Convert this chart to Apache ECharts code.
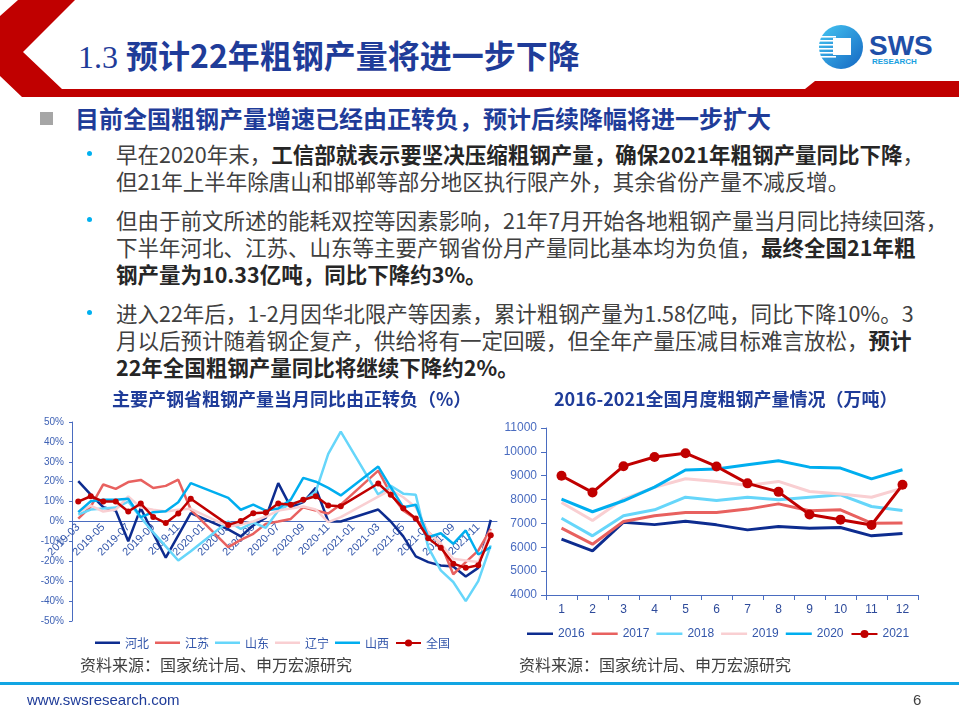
<!DOCTYPE html>
<html><head><meta charset="utf-8">
<script src="https://cdn.jsdelivr.net/npm/echarts@6/dist/echarts.min.js"></script>
<style>
html,body{margin:0;padding:0;background:#fff;}
#wrap{position:relative;width:959px;height:719px;overflow:hidden;font-family:"Noto Sans CJK SC",sans-serif;}
#chart{position:absolute;left:0;top:0;width:959px;height:719px;}
.t{position:absolute;white-space:nowrap;line-height:27px;font-size:21.5px;color:#404040;}
.t b{color:#262626;font-weight:bold;}
.dot{position:absolute;width:5px;height:5px;border-radius:50%;background:#00B0F0;}
</style></head>
<body>
<div id="wrap">
<svg width="959" height="110" style="position:absolute;left:0;top:0">
  <defs>
    <linearGradient id="lg" x1="0" y1="0" x2="1" y2="1">
      <stop offset="0" stop-color="#45C6F2"/>
      <stop offset="1" stop-color="#1466C2"/>
    </linearGradient>
  </defs>
  <polygon points="18,0 75,0 23,52 62,89 805,89 815,81 959,81 959,97 22,97 0,76 0,16" fill="#C00000"/>
  <circle cx="841" cy="47" r="22" fill="url(#lg)"/>
  <rect x="820" y="36" width="16" height="1.6" fill="#fff"/>
  <rect x="819" y="40" width="17" height="1.6" fill="#fff"/>
  <rect x="819" y="44" width="17" height="1.6" fill="#fff"/>
  <rect x="819" y="48" width="17" height="1.6" fill="#fff"/>
  <rect x="819" y="52" width="17" height="1.6" fill="#fff"/>
  <rect x="820" y="56" width="16" height="1.6" fill="#fff"/>
  <rect x="833" y="38" width="18" height="17" fill="#fff"/>
  <text x="869" y="55" font-family="Liberation Sans" font-weight="bold" font-size="28" fill="#1F4FA8">SWS</text>
  <text x="872" y="64" font-family="Liberation Sans" font-weight="bold" font-size="8" fill="#1AA0E0">RESEARCH</text>
</svg>
<div class="t" style="left:78px;top:38px;line-height:32px;font-size:32px;font-weight:bold;color:#1F3C99;"><span style="font-family:'Liberation Serif';font-weight:normal;">1.3 </span>预计22年粗钢产量将进一步下降</div>
<div style="position:absolute;left:40px;top:112px;width:13px;height:13px;background:#A6A6A6;"></div>
<div class="t" style="left:75px;top:104px;line-height:28px;font-size:24px;font-weight:bold;color:#1F3C99;">目前全国粗钢产量增速已经由正转负，预计后续降幅将进一步扩大</div>

<div class="dot" style="left:87px;top:151px;"></div>
<div class="t" style="left:116px;top:140px;">早在2020年末，<b>工信部就表示要坚决压缩粗钢产量，确保2021年粗钢产量同比下降</b>，</div>
<div class="t" style="left:116px;top:167px;">但21年上半年除唐山和邯郸等部分地区执行限产外，其余省份产量不减反增。</div>

<div class="dot" style="left:87px;top:217px;"></div>
<div class="t" style="left:116px;top:206px;">但由于前文所述的能耗双控等因素影响，21年7月开始各地粗钢产量当月同比持续回落，</div>
<div class="t" style="left:116px;top:233px;">下半年河北、江苏、山东等主要产钢省份月产量同比基本均为负值，<b>最终全国21年粗</b></div>
<div class="t" style="left:116px;top:260px;"><b>钢产量为10.33亿吨，同比下降约3%。</b></div>

<div class="dot" style="left:87px;top:310px;"></div>
<div class="t" style="left:116px;top:299px;">进入22年后，1-2月因华北限产等因素，累计粗钢产量为1.58亿吨，同比下降10%。3</div>
<div class="t" style="left:116px;top:326px;">月以后预计随着钢企复产，供给将有一定回暖，但全年产量压减目标难言放松，<b>预计</b></div>
<div class="t" style="left:116px;top:353px;"><b>22年全国粗钢产量同比将继续下降约2%。</b></div>

<div id="chart"></div>

<div style="position:absolute;left:0;top:682px;width:959px;height:3px;background:#12A5E3;"></div>
<div class="t" style="left:27px;top:690px;line-height:20px;font-size:15px;font-family:'Liberation Sans';color:#1F3C99;">www.swsresearch.com</div>
<div class="t" style="left:913px;top:690px;line-height:20px;font-size:15px;font-family:'Liberation Sans';color:#404040;">6</div>
</div>
<script>
// ---- Left chart data: monthly YoY change of crude steel output (%) ----
const months = ['2019-03','2019-04','2019-05','2019-06','2019-07','2019-08','2019-09','2019-10','2019-11','2019-12',
  '2020-01','2020-02','2020-03','2020-04','2020-05','2020-06','2020-07','2020-08','2020-09','2020-10','2020-11','2020-12',
  '2021-01','2021-02','2021-03','2021-04','2021-05','2021-06','2021-07','2021-08','2021-09','2021-10','2021-11','2021-12'];
const hebei    = [20.3, 13.5, 7.2, 5.5, -9.9, 6.7, -6.0, -18.2, -7.0, 4.2, null, null, -4.0, -7.5, -2.0, 1.9, 19.3, 7.2, 9.7, 16.9, 0.0, 0.0, null, null, 6.0, 0.0, -7.5, -17.5, -20.4, -22.1, -22.6, -27.6, -23.3, 0.8];
const jiangsu  = [1.4, 7.5, 18.6, 16.4, 19.8, 20.9, 16.8, 17.9, 21.0, 6.0, null, null, -12.9, -9.2, -6.2, -1.2, 0.0, 1.3, 7.2, 5.5, 4.0, 8.5, null, null, 25.6, 13.9, 5.5, 1.3, -5.4, -11.2, -26.5, -20.4, -14.6, -3.7];
const shandong = [3.5, 6.0, 6.5, 7.0, 10.0, 2.0, -5.5, -12.5, -19.6, -15.0, null, null, 0.0, -3.7, -0.5, -3.2, 5.5, 9.0, 10.0, 15.0, 34.0, 45.2, null, null, 13.5, 18.0, 14.0, 13.4, -13.0, -24.6, -30.4, -40.0, -30.0, -12.0];
const liaoning = [4.7, 8.0, 5.0, 6.0, 12.6, 7.0, 5.9, 5.0, 5.9, 6.4, null, null, -2.5, -1.5, 0.0, 2.5, 5.5, 6.5, 7.5, 6.0, -0.3, 2.2, null, null, 12.5, 15.9, 12.2, 7.2, -5.4, -11.2, -18.7, -19.6, -20.4, -4.5];
const shanxi   = [4.7, 10.2, 10.9, 10.9, 11.4, 2.2, 4.7, 5.2, 9.7, 19.3, null, null, 11.9, 5.9, 8.5, 5.5, 6.5, 11.0, 21.9, 20.0, 16.9, 13.1, null, null, 27.6, 17.2, 7.2, 8.4, -7.9, -5.9, -11.2, -4.5, -16.6, -12.9];
const national = [10.0, 12.7, 10.0, 10.0, 5.0, 9.0, 2.3, -0.8, 4.0, 11.4, null, null, -1.7, 0.2, 4.2, 4.5, 9.1, 8.4, 10.9, 12.7, 8.0, 7.7, null, null, 19.1, 13.4, 6.6, 1.5, -8.4, -13.2, -21.2, -23.3, -22.0, -6.9];
const provNames = ['河北','江苏','山东','辽宁','山西','全国'];

// ---- Right chart data: monthly national crude steel output (万吨) ----
const monthNums = ['1','2','3','4','5','6','7','8','9','10','11','12'];
const y2016 = [6340, 5850, 7050, 6950, 7090, 6940, 6730, 6870, 6800, 6830, 6480, 6580];
const y2017 = [6800, 6130, 7080, 7320, 7460, 7460, 7600, 7820, 7530, 7570, 7010, 7020];
const y2018 = [7220, 6480, 7320, 7570, 8100, 7960, 8100, 7990, 8100, 8200, 7710, 7540];
const y2019 = [7880, 7120, 8020, 8510, 8870, 8760, 8590, 8760, 8340, 8230, 8100, 8480];
const y2020 = [8020, 7490, 7950, 8520, 9240, 9280, 9460, 9630, 9360, 9320, 8870, 9250];
const y2021 = [9000, 8300, 9400, 9785, 9945, 9388, 8679, 8324, 7375, 7158, 6933, 8619];
const yearNames = ['2016','2017','2018','2019','2020','2021'];

const colors = ['#0D2C8F', '#E8615F', '#66D6FA', '#F9CFD2', '#00AEEF', '#C00000'];
const FONT = '"Liberation Sans","Noto Sans CJK SC",sans-serif';
const axisBlue = '#4A6CC0';
// plain line legend icon (tiny corner specks keep the bar thin inside the icon box)
const lineIcon = 'path://M0,0H0.01V0.01H0Z M0,3H25V5.5H0Z M0,8.99H0.01V9H0Z';

const chart = echarts.init(document.getElementById('chart'));

function leftSeries(name, data, i) {
  const s = {
    name: name, type: 'line', xAxisIndex: 0, yAxisIndex: 0, data: data,
    connectNulls: true, symbol: 'none', z: 2 + i,
    lineStyle: {color: colors[i], width: 2.5}, itemStyle: {color: colors[i]}
  };
  if (i === 5) { s.symbol = 'circle'; s.symbolSize = 6; s.showSymbol = true; }
  return s;
}
function rightSeries(name, data, i) {
  const s = {
    name: name, type: 'line', xAxisIndex: 1, yAxisIndex: 1, data: data,
    symbol: 'none', z: 2 + i,
    lineStyle: {color: colors[i], width: 3}, itemStyle: {color: colors[i]}
  };
  if (i === 5) { s.symbol = 'circle'; s.symbolSize = 10; s.showSymbol = true; }
  return s;
}
function legendData(names) {
  return names.map(function (n, i) {
    return i === 5 ? {name: n} : {name: n, icon: lineIcon, itemStyle: {color: colors[i]}};
  });
}

const option = {
  animation: false,
  textStyle: {fontFamily: FONT},
  title: [
    {text: '主要产钢省粗钢产量当月同比由正转负（%）', left: 107, top: 385,
     textStyle: {fontSize: 18, fontWeight: 'bold', color: '#1F3C99', fontFamily: '"Noto Sans CJK SC"'}},
    {text: '2016-2021全国月度粗钢产量情况（万吨）', left: 549, top: 385,
     textStyle: {fontSize: 18, fontWeight: 'bold', color: '#1F3C99', fontFamily: '"Noto Sans CJK SC"'}}
  ],
  legend: [
    {data: legendData(provNames), left: 95, top: 637, padding: 0, itemWidth: 25, itemHeight: 9, itemGap: 6,
     textStyle: {fontSize: 12, color: '#3356AA', fontFamily: '"Noto Sans CJK SC"'}},
    {data: legendData(yearNames), left: 527, top: 628, padding: 0, itemWidth: 26, itemHeight: 10, itemGap: 7,
     textStyle: {fontSize: 12, color: '#3356AA'}}
  ],
  grid: [
    {left: 72, top: 422, width: 425, height: 199},
    {left: 546, top: 428, width: 372, height: 167}
  ],
  xAxis: [
    {type: 'category', gridIndex: 0, data: months, boundaryGap: true, position: 'bottom', offset: -99.5,
     axisLine: {onZero: false, lineStyle: {color: axisBlue, width: 1}},
     axisTick: {show: false},
     axisLabel: {rotate: 45, interval: 1, fontSize: 11, color: '#3356AA', margin: 4}},
    {type: 'category', gridIndex: 1, data: monthNums, boundaryGap: true,
     axisLine: {lineStyle: {color: axisBlue, width: 1}},
     axisTick: {show: true, length: 5, lineStyle: {color: axisBlue}},
     axisLabel: {fontSize: 12, color: '#2E4B9B', margin: 9}}
  ],
  yAxis: [
    {type: 'value', gridIndex: 0, min: -50, max: 50, interval: 10,
     axisLine: {show: true, lineStyle: {color: axisBlue, width: 1}},
     axisTick: {show: true, length: 3, lineStyle: {color: axisBlue}},
     splitLine: {show: false},
     axisLabel: {formatter: '{value}%', fontSize: 10, color: '#3F62B5', margin: 8}},
    {type: 'value', gridIndex: 1, min: 4000, max: 11000, interval: 1000,
     axisLine: {show: true, lineStyle: {color: axisBlue, width: 1}},
     axisTick: {show: true, length: 5, lineStyle: {color: axisBlue}},
     splitLine: {show: false},
     axisLabel: {formatter: function (v) { return String(v); }, fontSize: 12, color: '#4A6CC0', margin: 9}}
  ],
  series: [
    leftSeries(provNames[0], hebei, 0),
    leftSeries(provNames[1], jiangsu, 1),
    leftSeries(provNames[2], shandong, 2),
    leftSeries(provNames[3], liaoning, 3),
    leftSeries(provNames[4], shanxi, 4),
    leftSeries(provNames[5], national, 5),
    rightSeries(yearNames[0], y2016, 0),
    rightSeries(yearNames[1], y2017, 1),
    rightSeries(yearNames[2], y2018, 2),
    rightSeries(yearNames[3], y2019, 3),
    rightSeries(yearNames[4], y2020, 4),
    rightSeries(yearNames[5], y2021, 5)
  ],
  graphic: [
    {type: 'text', left: 80, top: 657, style: {text: '资料来源：国家统计局、申万宏源研究', fontSize: 16, fill: '#404040', fontFamily: '"Noto Sans CJK SC"'}},
    {type: 'text', left: 519, top: 657, style: {text: '资料来源：国家统计局、申万宏源研究', fontSize: 16, fill: '#404040', fontFamily: '"Noto Sans CJK SC"'}}
  ]
};
chart.setOption(option);
</script>
</body></html>
